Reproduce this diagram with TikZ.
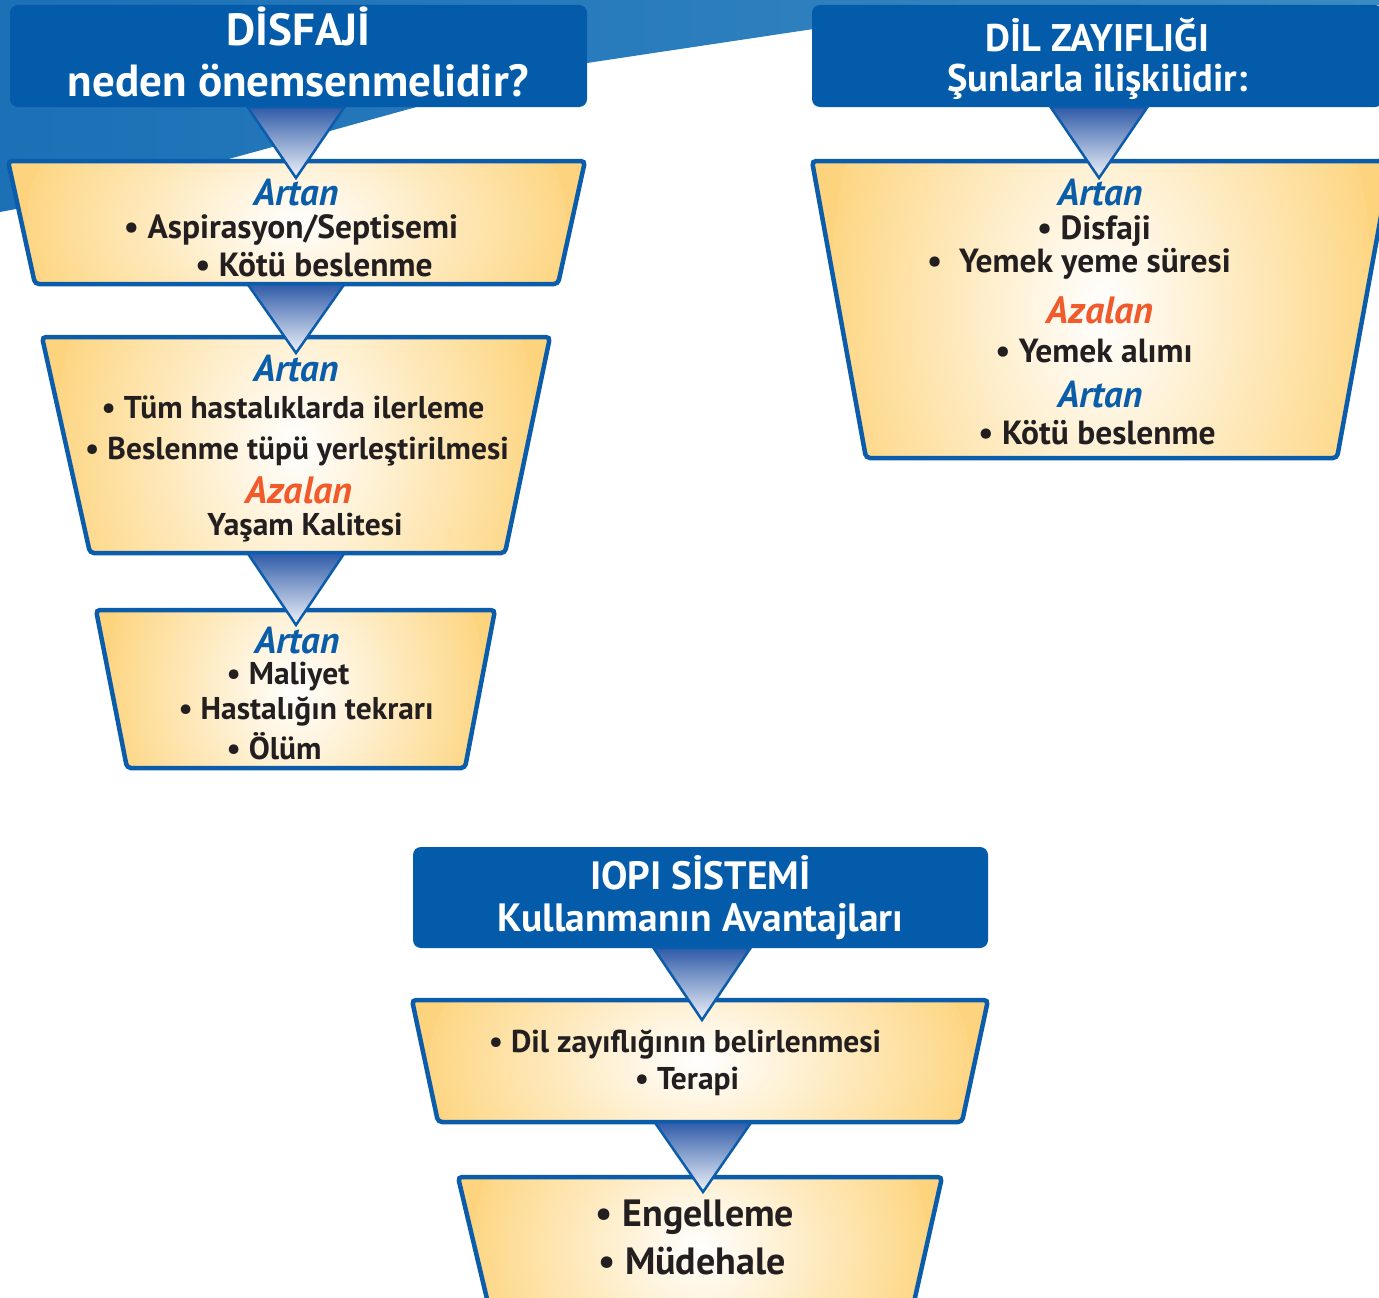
\documentclass[tikz,border=0pt]{standalone}
\usepackage{fontspec}
\setmainfont{PT Sans}

\definecolor{hdrblue}{RGB}{3,91,170}
\definecolor{edgeblue}{RGB}{11,93,171}
\definecolor{fy}{RGB}{253,212,125}
\definecolor{artanblue}{RGB}{10,93,169}
\definecolor{azalanred}{RGB}{241,90,42}
\definecolor{txt}{RGB}{35,31,32}
\definecolor{swooshL}{RGB}{27,112,182}
\definecolor{swooshR}{RGB}{58,138,195}
\definecolor{wedgetop}{RGB}{47,91,168}
\definecolor{wedgebot}{RGB}{240,243,250}

\tikzset{
  header/.style={fill=hdrblue, rounded corners=8pt, text=white, align=center, inner sep=0pt},
  funnel/.style 2 args={draw=edgeblue, line width=4.5pt, rounded corners=4pt, fill=fy,
    path picture={\shade[inner color=white, outer color=fy] (path picture bounding box.center) ellipse [x radius=#1, y radius=#2];}},
  wedge/.style={draw=edgeblue, line width=2.5pt, top color=wedgetop, bottom color=wedgebot},
  entry/.style={text=txt, inner sep=0pt, font=\bfseries\fontsize{31.5}{36}\selectfont},
  bigentry/.style={entry, font=\bfseries\fontsize{33.5}{38}\selectfont},
  artan/.style={text=artanblue, inner sep=0pt, font=\bfseries\itshape\fontsize{37.5}{42}\selectfont},
  azalan/.style={text=azalanred, inner sep=0pt, font=\bfseries\itshape\fontsize{38}{42}\selectfont},
}

\begin{document}
\begin{tikzpicture}[x=1pt,y=-1pt]
  \useasboundingbox (0,0) rectangle (1379,1298);
  \clip (0,0) rectangle (1379,1298);

  % background swoosh
  \shade[left color=swooshL, right color=swooshR]
    (0,0) -- (1379,0) -- (1379,5) -- (820,28) -- (587,63)
    .. controls (350,120) and (200,175) .. (0,212) -- cycle;

  % headers
  \node[header, minimum width=577pt, minimum height=102pt, text depth=8pt,
        font=\bfseries\fontsize{45}{51}\selectfont] (hdisfaji) at (298.5,56)
    {DİSFAJİ\\neden önemsenmelidir?};
  \node[header, minimum width=571pt, minimum height=102pt, text depth=3pt,
        font=\bfseries\fontsize{38.5}{40}\selectfont] (hdil) at (1097.5,56)
    {DİL ZAYIFLIĞI\\Şunlarla ilişkilidir:};
  \node[header, minimum width=575pt, minimum height=101pt,
        font=\bfseries\fontsize{39.5}{42}\selectfont] (hiopi) at (700.5,897.5)
    {IOPI SİSTEMİ\\Kullanmanın Avantajları};

  % funnel boxes
  \draw[funnel={270pt}{180pt}] (8,161) -- (585,161) -- (558,284) -- (35,284) -- cycle;
  \draw[funnel={240pt}{315pt}] (42,337) -- (550,337) -- (505,553) -- (90,553) -- cycle;
  \draw[funnel={188pt}{230pt}] (96,610) -- (495,610) -- (465,768) -- (127,768) -- cycle;
  \draw[funnel={272pt}{430pt}] (812,161) -- (1391,161) -- (1337,458) -- (866,458) -- cycle;
  \draw[funnel={270pt}{178pt}] (412,1000) -- (988,1000) -- (962,1122) -- (438,1122) -- cycle;
  \draw[funnel={227pt}{210pt}] (458,1177) -- (942,1177) -- (910,1320) -- (492,1320) -- cycle;

  % wedges between the boxes
  \foreach \cx/\ya/\yb in {296/107/178, 296/284/353, 296/553/625,
                           1099/107/178, 702/948/1020, 703/1122/1192} {
    \draw[wedge] (\cx-48.5,\ya) -- (\cx+48.5,\ya) -- (\cx,\yb) -- cycle;
  }

  % left column
  \node[artan] (a1) at (296,193) {Artan};
  \node[bigentry] (a1i) at (291,230) {• Aspirasyon/Septisemi};
  \node[bigentry] (a1ii) at (314,265) {• Kötü beslenme};

  \node[artan] (a2) at (296,369) {Artan};
  \node[entry] (a2i) at (293,407) {• Tüm hastalıklarda ilerleme};
  \node[entry] (a2ii) at (297,451) {• Beslenme tüpü yerleştirilmesi};
  \node[azalan] (z2) at (299,490) {Azalan};
  \node[entry] (z2i) at (305,528) {Yaşam Kalitesi};

  \node[artan] (a3) at (297,641) {Artan};
  \node[entry] (a3i) at (288,677) {• Maliyet};
  \node[entry] (a3ii) at (306,711) {• Hastalığın tekrarı};
  \node[entry] (a3iii) at (274,746) {• Ölüm};

  % right column
  \node[artan] (b1) at (1100,193) {Artan};
  \node[bigentry] (b1i) at (1094,231) {• Disfaji};
  \node[bigentry] (b1ii) at (1079,264) {•\ \ Yemek yeme süresi};
  \node[azalan] (bz) at (1100,310) {Azalan};
  \node[bigentry] (bzi) at (1094,351) {• Yemek alımı};
  \node[artan] (b2) at (1100,395) {Artan};
  \node[bigentry] (b2i) at (1097,433) {• Kötü beslenme};

  % bottom column
  \node[entry] (c1i) at (685,1044) {• Dil zayıflığının belirlenmesi};
  \node[entry] (c1ii) at (687,1081) {• Terapi};
  \node[entry, font=\bfseries\fontsize{38}{42}\selectfont] (c2i) at (695,1217) {• Engelleme};
  \node[entry, font=\bfseries\fontsize{38}{42}\selectfont] (c2ii) at (692,1261) {• Müdehale};
\end{tikzpicture}
\end{document}
